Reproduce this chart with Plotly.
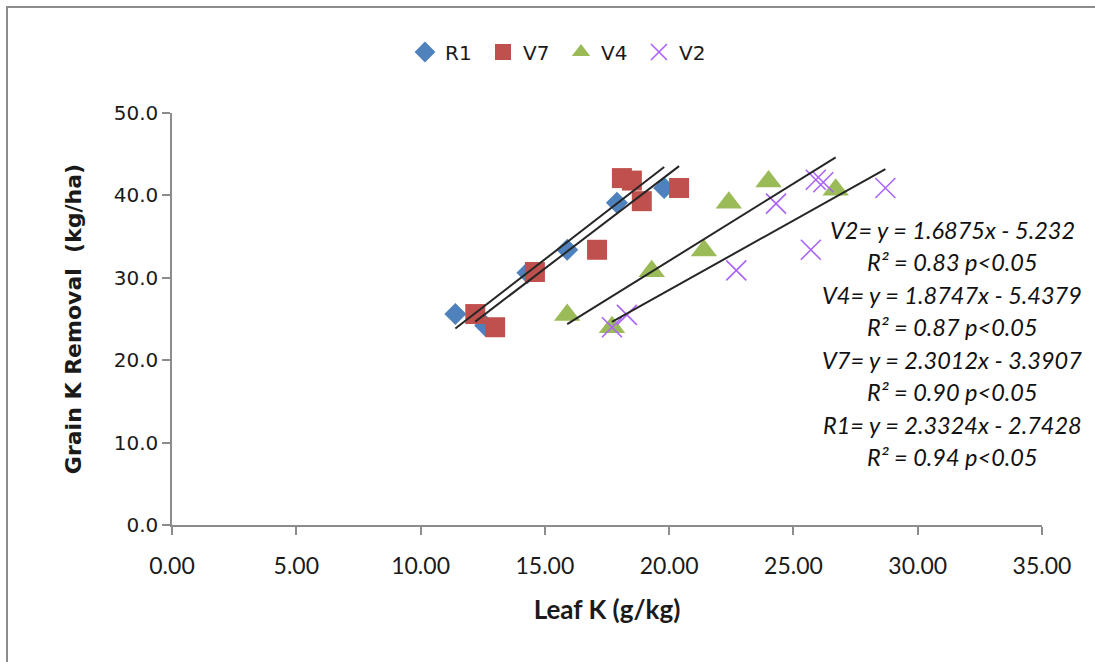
import plotly.graph_objects as go

# Leaf K (g/kg) vs grain K removal (kg/ha) by growth stage
r1_x = [11.4, 12.6, 14.3, 15.9, 17.9, 19.8]
r1_y = [25.6, 24.2, 30.6, 33.4, 39.1, 40.9]

v7_x = [12.2, 13.0, 14.6, 17.1, 18.1, 18.5, 18.9, 20.4]
v7_y = [25.6, 24.0, 30.7, 33.4, 42.1, 41.8, 39.3, 40.9]

v4_x = [15.9, 17.7, 19.3, 21.4, 22.4, 24.0, 26.7]
v4_y = [25.5, 24.0, 30.8, 33.3, 39.1, 41.7, 40.7]

v2_x = [17.7, 18.3, 22.7, 24.3, 25.7, 25.9, 26.2, 28.7]
v2_y = [24.0, 25.5, 30.9, 39.0, 33.4, 41.9, 41.6, 40.9]

# Linear fits (slope, intercept) as reported
r1_fit = (2.3324, -2.7428)
v7_fit = (2.3012, -3.3907)
v4_fit = (1.8747, -5.4379)
v2_fit = (1.6875, -5.232)

fit_labels = [
    "V2= y = 1.6875x - 5.232",
    "R² = 0.83 p<0.05",
    "V4= y = 1.8747x - 5.4379",
    "R² = 0.87 p<0.05",
    "V7= y = 2.3012x - 3.3907",
    "R² = 0.90 p<0.05",
    "R1= y = 2.3324x - 2.7428",
    "R² = 0.94 p<0.05",
]

x_ticks = [0, 5, 10, 15, 20, 25, 30, 35]
y_ticks = [0, 10, 20, 30, 40, 50]

W, H = 1095, 662
L, R, T, B = 172, 53, 113, 137
pw, ph = W - L - R, H - T - B

fig = go.Figure()

series = [
    ("R1", r1_x, r1_y, dict(symbol="diamond", size=17, color="#4F81BD")),
    ("V7", v7_x, v7_y, dict(symbol="square", size=20, color="#C0504D")),
    ("V4", v4_x, v4_y, dict(symbol="triangle-up", size=23, color="#9BBB59")),
    ("V2", v2_x, v2_y, dict(symbol="x-thin-open", size=20,
                            line=dict(color="#A798D2", width=1.6))),
]
for name, xs, ys, mk in series:
    fig.add_trace(go.Scatter(x=xs, y=ys, mode="markers", name=name, marker=mk))

# Trend lines span each series' own x range
for xs, (m, c) in [(r1_x, r1_fit), (v7_x, v7_fit), (v4_x, v4_fit), (v2_x, v2_fit)]:
    x0, x1 = min(xs), max(xs)
    fig.add_trace(go.Scatter(
        x=[x0, x1], y=[m * x0 + c, m * x1 + c], mode="lines",
        line=dict(color="#262626", width=2), showlegend=False, hoverinfo="skip"))

# Fit equations, one centred line each
line_px = [230, 262, 295, 327, 360, 392, 425, 457]
for txt, py in zip(fit_labels, line_px):
    fig.add_annotation(
        x=(952 - L) / pw, y=(H - B - py) / ph, xref="paper", yref="paper",
        text=f"<i>{txt}</i>", showarrow=False, xanchor="center", yanchor="middle",
        font=dict(family="Lato, Carlito, sans-serif", size=23.5, color="#111111"))

# Chart-area frame
fig.add_shape(type="rect", xref="paper", yref="paper",
              x0=(7 - L) / pw, x1=(1110 - L) / pw,
              y0=(H - B - 700) / ph, y1=(H - B - 7) / ph,
              line=dict(color="#8c8c8c", width=2), layer="below")

axis_font = dict(family="DejaVu Sans, Verdana, sans-serif", size=20, color="#1a1a1a")

fig.update_layout(
    width=W, height=H, autosize=False,
    margin=dict(l=L, r=R, t=T, b=B),
    paper_bgcolor="white", plot_bgcolor="white",
    showlegend=True,
    legend=dict(orientation="h", x=(405 - L) / pw, y=(H - B - 52) / ph,
                xanchor="left", yanchor="middle",
                font=dict(family="DejaVu Sans, Verdana, sans-serif", size=20,
                          color="#1a1a1a"),
                entrywidth=33, entrywidthmode="pixels", bgcolor="rgba(0,0,0,0)"),
    xaxis=dict(range=[0, 35], tickvals=x_ticks,
               ticktext=[f"{v:.2f}" for v in x_ticks],
               showgrid=False, zeroline=False, showline=True,
               linecolor="#8c8c8c", linewidth=1.5,
               ticks="outside", ticklen=8, tickcolor="#8c8c8c", tickwidth=1.5,
               tickfont=dict(family="Lato, Carlito, sans-serif", size=23, color="#1a1a1a"),
               ticklabelstandoff=12,
               title=dict(text="<b>Leaf K (g/kg)</b>", standoff=22,
                          font=dict(family="Lato, Carlito, sans-serif", size=26,
                                    color="#1a1a1a"))),
    yaxis=dict(range=[0, 50], tickvals=y_ticks,
               ticktext=[f"{v:.1f}" for v in y_ticks],
               showgrid=False, zeroline=False, showline=True,
               linecolor="#8c8c8c", linewidth=1.5,
               ticks="outside", ticklen=8, tickcolor="#8c8c8c", tickwidth=1.5,
               tickfont=axis_font,
               title=dict(text="<b>Grain K Removal \u00a0(kg/ha)</b>", standoff=26,
                          font=dict(family="DejaVu Sans, Verdana, sans-serif", size=22,
                                    color="#1a1a1a"))),
)

fig.write_html("out.html")
